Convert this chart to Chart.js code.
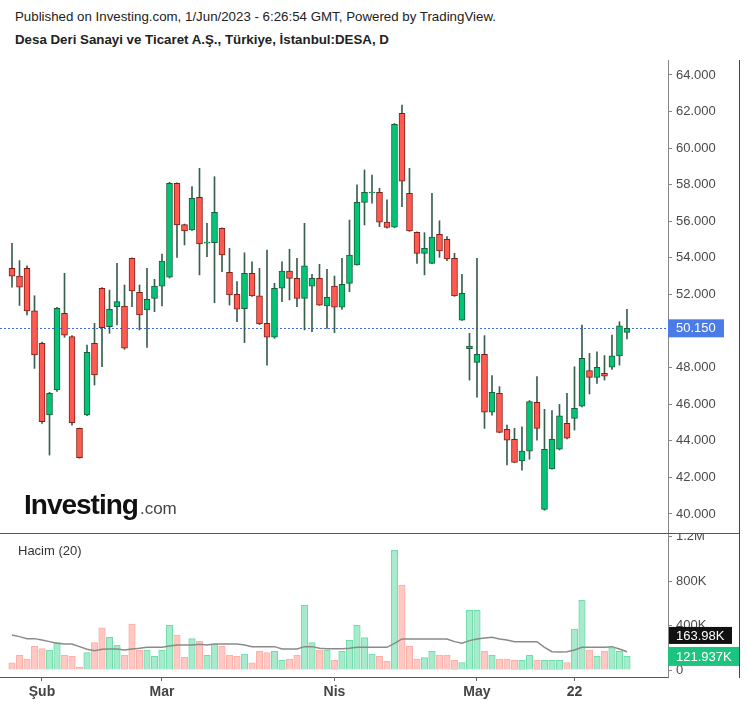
<!DOCTYPE html>
<html>
<head>
<meta charset="utf-8">
<script src="https://cdn.jsdelivr.net/npm/chart.js@4.4.1/dist/chart.umd.min.js"></script>
<style>
  body { margin: 0; background: #fff; width: 747px; height: 707px; overflow: hidden; position: relative;
         font-family: "Liberation Sans", Arial, sans-serif; }
  .hdr1 { position: absolute; left: 15px; top: 10px; font-size: 13.3px; line-height: 13px; color: #222; white-space: nowrap; }
  .hdr2 { position: absolute; left: 15px; top: 33px; font-size: 13.3px; line-height: 13px; color: #222; font-weight: bold; white-space: nowrap; }
  #priceChart { position: absolute; left: 0; top: 50px; }
  #volChart { position: absolute; left: 0; top: 533px; }
  .sep { position: absolute; left: 0; top: 533px; width: 740px; height: 1px; background: #555; }
  .rborder { position: absolute; left: 739px; top: 60px; width: 1px; height: 618px; background: #444; }
  .logo { position: absolute; left: 24px; top: 491px; line-height: 28px; white-space: nowrap; }
  .logo b { font-size: 28px; font-weight: bold; color: #111; letter-spacing: -1px; }
  .logo span { font-size: 17px; color: #444; margin-left: 2px; }
  .hacim { position: absolute; left: 18px; top: 544px; font-size: 13px; line-height: 13px; color: #333; }
</style>
</head>
<body>
<div class="hdr1">Published on Investing.com, 1/Jun/2023 - 6:26:54 GMT, Powered by TradingView.</div>
<div class="hdr2">Desa Deri Sanayi ve Ticaret A.Ş., Türkiye, İstanbul:DESA, D</div>
<canvas id="priceChart" width="747" height="493"></canvas>
<canvas id="volChart" width="747" height="174"></canvas>
<div class="logo"><b>Investing</b><span>.com</span></div>
<div class="hacim">Hacim (20)</div>
<div class="sep"></div>
<div class="rborder"></div>
<script>
// günlük fiyatlar (26 Oca - 31 May)
const openP = [53.43, 53.0, 53.43, 51.1, 49.33, 45.41, 46.78, 50.97, 49.7, 44.68,
  45.41, 49.33, 52.34, 50.24, 51.34, 51.37, 53.98, 52.12, 51.15, 51.79,
  52.46, 52.94, 58.08, 55.82, 55.53, 57.31, 54.8, 54.83, 55.62, 53.21,
  52.01, 51.23, 53.16, 51.93, 50.42, 49.66, 52.34, 53.28, 52.88, 51.79,
  52.46, 52.88, 51.37, 52.46, 51.3, 52.61, 53.61, 57.04, 57.55, 57.59,
  55.96, 55.68, 61.91, 57.53, 55.4, 54.25, 53.7, 55.29, 55.02, 53.98,
  50.6, 49.04, 48.29, 48.73, 45.56, 46.6, 44.63, 44.08, 42.9, 43.44,
  46.1, 40.25, 42.47, 43.54, 44.96, 45.23, 45.9, 47.84, 47.47, 47.69,
  48.02, 48.64, 49.93];
const highP = [54.8, 53.85, 53.57, 51.93, 49.4, 46.65, 51.3, 53.16, 49.75, 44.7,
  49.24, 50.42, 52.38, 52.24, 53.7, 52.52, 54.0, 52.52, 53.43, 52.83,
  54.21, 58.13, 58.1, 55.85, 57.9, 58.9, 55.89, 58.44, 55.65, 54.52,
  52.7, 54.28, 53.79, 53.43, 54.43, 52.61, 53.79, 54.47, 53.98, 55.89,
  53.1, 53.65, 53.38, 53.01, 53.98, 56.07, 57.99, 58.81, 58.53, 57.81,
  57.17, 61.35, 62.36, 58.9, 55.42, 55.38, 57.53, 56.03, 55.16, 54.25,
  53.1, 49.88, 53.98, 49.75, 47.56, 46.96, 44.86, 44.68, 44.77, 46.2,
  47.51, 45.72, 45.65, 45.99, 46.6, 48.05, 50.33, 48.78, 48.87, 48.66,
  49.78, 50.51, 51.19];
const lowP = [52.4, 51.4, 50.88, 47.96, 44.95, 43.22, 46.7, 49.66, 44.86, 43.05,
  45.38, 47.05, 48.05, 49.88, 50.33, 49.0, 51.33, 50.06, 49.11, 51.06,
  51.37, 52.9, 54.03, 54.71, 55.5, 53.07, 54.07, 51.55, 53.25, 51.42,
  50.51, 49.37, 51.9, 50.35, 48.14, 49.6, 51.61, 51.7, 51.33, 50.06,
  49.97, 51.4, 50.15, 49.91, 51.19, 52.15, 53.6, 55.8, 56.99, 55.71,
  55.62, 55.65, 56.8, 55.45, 53.7, 53.07, 53.68, 54.03, 53.85, 51.9,
  50.58, 47.32, 46.38, 44.68, 45.4, 44.44, 42.68, 42.8, 42.4, 42.99,
  44.04, 40.2, 42.45, 43.5, 44.1, 44.59, 45.85, 46.56, 47.14, 47.32,
  47.9, 48.14, 49.57];
const closeP = [53.0, 52.4, 51.1, 48.69, 45.04, 46.6, 51.24, 49.78, 44.99, 43.08,
  48.84, 47.6, 50.18, 51.19, 51.61, 49.06, 52.19, 50.88, 51.74, 52.46,
  53.83, 58.08, 55.8, 55.47, 57.26, 54.76, 54.87, 56.49, 54.16, 51.97,
  51.2, 53.16, 51.92, 50.39, 49.66, 52.34, 53.28, 52.88, 51.79, 53.56,
  52.88, 51.42, 51.85, 51.3, 52.56, 54.16, 57.04, 57.59, 57.6, 55.95,
  55.67, 61.3, 58.2, 55.47, 54.25, 54.53, 55.14, 54.38, 53.94, 51.92,
  52.06, 49.18, 48.73, 45.56, 46.65, 44.46, 44.04, 42.82, 43.44, 46.14,
  44.68, 43.54, 44.08, 45.37, 44.14, 45.78, 48.51, 47.47, 48.02, 47.54,
  48.64, 50.29, 50.15];

// hacim ve 20 günlük ortalama
const volume = [65000, 132000, 99000, 213000, 192000, 180000, 246000, 132000, 123000, 24000,
  156000, 246000, 380000, 294000, 222000, 132000, 413000, 180000, 180000, 123000,
  180000, 402000, 315000, 114000, 282000, 258000, 132000, 234000, 213000, 132000,
  123000, 144000, 65000, 168000, 156000, 168000, 87000, 99000, 132000, 582000,
  246000, 180000, 180000, 87000, 168000, 267000, 402000, 291000, 144000, 123000,
  78000, 1076000, 764000, 213000, 99000, 111000, 168000, 132000, 132000, 87000,
  66000, 537000, 537000, 168000, 132000, 99000, 99000, 87000, 87000, 132000,
  87000, 87000, 87000, 87000, 66000, 368000, 626000, 180000, 123000, 168000,
  201000, 168000, 121937];
const volumeMA = [315000, 300000, 282000, 282000, 270000, 255000, 240000, 234000, 234000, 210000,
  186000, 174000, 186000, 189000, 189000, 180000, 189000, 195000, 204000, 204000,
  204000, 216000, 225000, 225000, 225000, 231000, 225000, 234000, 234000, 234000,
  234000, 225000, 210000, 210000, 210000, 210000, 189000, 189000, 189000, 210000,
  210000, 195000, 192000, 192000, 192000, 195000, 204000, 204000, 204000, 204000,
  204000, 240000, 279000, 279000, 279000, 279000, 279000, 279000, 279000, 255000,
  240000, 264000, 279000, 288000, 294000, 279000, 270000, 255000, 255000, 255000,
  255000, 204000, 165000, 162000, 165000, 180000, 204000, 204000, 204000, 204000,
  210000, 189000, 163980];

const priceTicks = [40, 42, 44, 46, 48, 50, 52, 54, 56, 58, 60, 62, 64];
const volTicks = [0, 400000, 800000, 1200000];
const volTickLabels = ['0', '400K', '800K', '1.2M'];
const xTickIdx = [4, 20, 43, 62, 75];
const xTickLabels = ['Şub', 'Mar', 'Nis', 'May', '22'];

// görünüm
const X_MIN = -1.6, X_MAX = 87.47;
const UP_FILL = '#00c576', UP_LINE = '#1b5e3b';
const DN_FILL = '#ff5a50', DN_LINE = '#7d1f1a';
const WICK = '#3a5f4d';
const FONT = '"Liberation Sans", Arial, sans-serif';

const idx = closeP.map((_, i) => i);
const isUp = i => closeP[i] >= openP[i];

function fixedAxis(width) {
  return s => { s.width = width; s.paddingTop = 0; s.paddingBottom = 0; };
}

// son fiyat çizgisi ve etiketi
const lastPricePlugin = {
  id: 'lastPrice',
  beforeDatasetsDraw(chart) {
    const { ctx, chartArea, scales: { y } } = chart;
    const py = Math.round(y.getPixelForValue(closeP[closeP.length - 1])) + 0.5;
    ctx.save();
    ctx.strokeStyle = '#3d6fe3';
    ctx.lineWidth = 1;
    ctx.setLineDash([2, 2]);
    ctx.beginPath();
    ctx.moveTo(chartArea.left, py);
    ctx.lineTo(chartArea.right, py);
    ctx.stroke();
    ctx.restore();
  },
  afterDraw(chart) {
    const { ctx, chartArea, scales: { y } } = chart;
    const last = closeP[closeP.length - 1];
    const py = y.getPixelForValue(last);
    ctx.save();
    ctx.fillStyle = '#4a7be6';
    ctx.fillRect(chartArea.right, py - 9, 56, 18);
    ctx.fillStyle = '#fff';
    ctx.font = '13px ' + FONT;
    ctx.textBaseline = 'middle';
    ctx.fillText(last.toFixed(3), chartArea.right + 8, py + 0.5);
    ctx.restore();
  }
};

const volumeLabelPlugin = {
  id: 'volLabels',
  afterDraw(chart) {
    const { ctx, chartArea, scales: { y } } = chart;
    const lastVol = volume[volume.length - 1];
    const lastMA = volumeMA[volumeMA.length - 1];
    const gy = y.getPixelForValue(lastVol);
    const by = Math.min(y.getPixelForValue(lastMA), gy - 21);
    ctx.save();
    ctx.font = '13px ' + FONT;
    ctx.textBaseline = 'middle';
    ctx.fillStyle = '#111';
    ctx.fillRect(chartArea.right + 1, by - 8.5, 63, 17);
    ctx.fillStyle = '#fff';
    ctx.fillText((lastMA / 1000).toFixed(2) + 'K', chartArea.right + 8, by + 0.5);
    ctx.fillStyle = '#1dc47f';
    ctx.fillRect(chartArea.right, gy - 9.5, 72, 19);
    ctx.fillStyle = '#fff';
    ctx.fillText((lastVol / 1000).toFixed(3) + 'K', chartArea.right + 8, gy + 0.5);
    ctx.restore();
  }
};

new Chart(document.getElementById('priceChart'), {
  type: 'bar',
  data: {
    datasets: [
      {
        label: 'wick',
        data: idx.map(i => ({ x: i, y: [lowP[i], highP[i]] })),
        order: 2,
        grouped: false,
        barThickness: 1,
        backgroundColor: WICK,
        borderWidth: 0
      },
      {
        label: 'body',
        data: idx.map(i => ({ x: i, y: [openP[i], closeP[i]] })),
        order: 1,
        grouped: false,
        barThickness: 6,
        backgroundColor: c => isUp(c.dataIndex) ? UP_FILL : DN_FILL,
        borderColor: c => isUp(c.dataIndex) ? UP_LINE : DN_LINE,
        borderWidth: 1,
        borderSkipped: false
      }
    ]
  },
  options: {
    responsive: false,
    animation: false,
    layout: { padding: { top: 10, bottom: 10, left: 0, right: 0 } },
    plugins: { legend: { display: false }, tooltip: { enabled: false } },
    scales: {
      x: { type: 'linear', min: X_MIN, max: X_MAX, offset: false, grid: { offset: false }, display: false },
      y: {
        position: 'right',
        min: 38.96,
        max: 64.82,
        afterBuildTicks: s => { s.ticks = priceTicks.map(v => ({ value: v })); },
        afterFit: fixedAxis(79),
        grid: { drawOnChartArea: false, drawTicks: true, tickLength: 4, color: '#888' },
        border: { display: true, color: '#888' },
        ticks: { padding: 4, color: '#4a4a4a', font: { size: 13, family: FONT }, callback: v => v.toFixed(3) }
      }
    }
  },
  plugins: [lastPricePlugin]
});

new Chart(document.getElementById('volChart'), {
  type: 'bar',
  data: {
    datasets: [
      {
        type: 'line',
        label: 'ma',
        data: idx.map(i => ({ x: i, y: volumeMA[i] })),
        borderColor: '#8a8a8a',
        borderWidth: 1.5,
        pointRadius: 0,
        tension: 0,
        order: 0
      },
      {
        label: 'hacim',
        data: idx.map(i => ({ x: i, y: volume[i] })),
        barThickness: 6.5,
        backgroundColor: c => isUp(c.dataIndex) ? '#a6ebcb' : '#ffc8c3',
        borderColor: c => isUp(c.dataIndex) ? '#6edcab' : '#ffaea8',
        borderWidth: 1,
        order: 1
      }
    ]
  },
  options: {
    responsive: false,
    animation: false,
    layout: { padding: 0 },
    plugins: { legend: { display: false }, tooltip: { enabled: false } },
    scales: {
      x: {
        type: 'linear',
        min: X_MIN,
        max: X_MAX,
        offset: false,
        afterBuildTicks: s => { s.ticks = xTickIdx.map(v => ({ value: v })); },
        afterFit: s => { s.height = 30; s.paddingLeft = 0; s.paddingRight = 0; },
        grid: { offset: false, drawOnChartArea: false, drawTicks: true, tickLength: 4, color: '#666' },
        border: { display: true, color: '#555' },
        ticks: {
          autoSkip: false, maxRotation: 0, padding: 3, color: '#444',
          font: { size: 14, weight: 'bold', family: FONT },
          callback: v => xTickLabels[xTickIdx.indexOf(v)]
        }
      },
      y: {
        position: 'right',
        min: -62900,
        max: 1231500,
        afterBuildTicks: s => { s.ticks = volTicks.map(v => ({ value: v })); },
        afterFit: fixedAxis(79),
        grid: { drawOnChartArea: false, drawTicks: true, tickLength: 4, color: '#888' },
        border: { display: true, color: '#888' },
        ticks: {
          padding: 4, color: '#4a4a4a', font: { size: 13, family: FONT },
          callback: v => volTickLabels[volTicks.indexOf(v)]
        }
      }
    }
  },
  plugins: [volumeLabelPlugin]
});
</script>
</body>
</html>
